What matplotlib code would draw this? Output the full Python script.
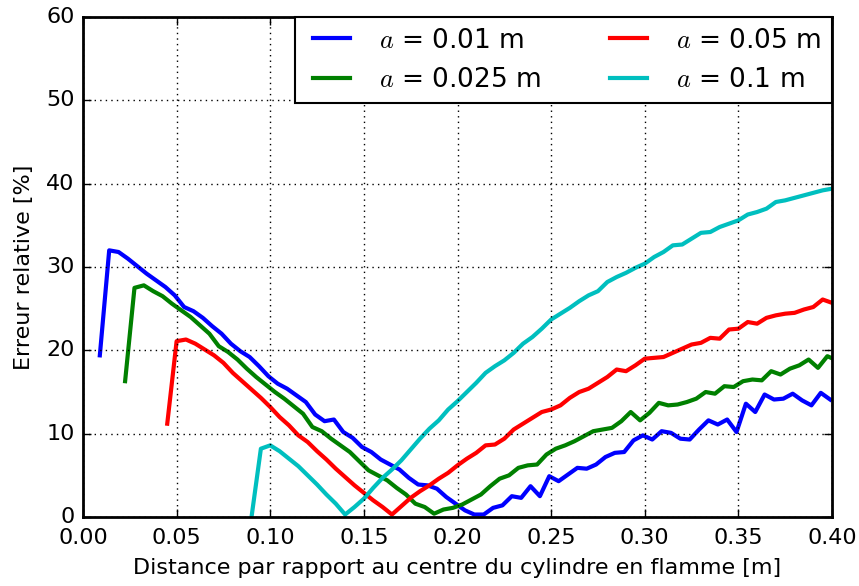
import numpy as np
import matplotlib
matplotlib.use('Agg')
import matplotlib.pyplot as plt

plt.style.use('classic')
plt.rcParams['mathtext.fontset'] = 'cm'

# sampling step along the distance axis
step = 0.005

# relative error [%], one list per cylinder radius a
err_a001 = [19.4, 32.0, 31.8, 31.0, 30.1, 29.2, 28.4, 27.6, 26.6, 25.2,
            24.7, 23.9, 22.9, 22.0, 20.8, 19.9, 19.2, 18.1, 16.9, 16.0,
            15.4, 14.6, 13.8, 12.3, 11.5, 11.7, 10.2, 9.5, 8.4, 7.8,
            6.9, 6.3, 5.7, 4.7, 3.9, 3.8, 3.4, 2.4, 1.6, 0.8,
            0.3, 0.3, 1.1, 1.4, 2.5, 2.3, 3.7, 2.5, 4.9, 4.3,
            5.1, 5.9, 5.8, 6.3, 7.2, 7.7, 7.8, 9.2, 9.8, 9.3,
            10.3, 10.1, 9.4, 9.3, 10.5, 11.6, 11.1, 11.7, 10.2, 13.6,
            12.6, 14.7, 14.1, 14.2, 14.8, 14.0, 13.4, 14.9, 14.1]
err_a0025 = [16.3, 27.5, 27.8, 27.1, 26.5, 25.6, 24.8, 24.0, 23.0, 22.0,
             20.5, 19.8, 18.9, 17.8, 16.8, 15.9, 15.0, 14.2, 13.3, 12.4,
             10.8, 10.3, 9.4, 8.6, 7.8, 6.7, 5.6, 5.0, 4.4, 3.5,
             2.7, 1.6, 1.2, 0.4, 0.9, 1.1, 1.5, 2.1, 2.7, 3.7,
             4.6, 5.0, 5.9, 6.2, 6.3, 7.5, 8.2, 8.6, 9.1, 9.7,
             10.3, 10.5, 10.7, 11.5, 12.6, 11.6, 12.5, 13.7, 13.4, 13.5,
             13.8, 14.2, 15.0, 14.8, 15.7, 15.6, 16.3, 16.5, 16.4, 17.5,
             17.1, 17.8, 18.2, 18.9, 17.9, 19.3, 18.8]
err_a005 = [11.2, 21.1, 21.3, 20.8, 20.1, 19.4, 18.5, 17.3, 16.3, 15.3,
            14.3, 13.2, 12.0, 11.0, 9.8, 9.0, 7.9, 6.9, 5.8, 4.8,
            3.8, 2.9, 2.0, 1.2, 0.3, 1.3, 2.3, 3.1, 3.8, 4.6,
            5.3, 6.2, 7.0, 7.7, 8.6, 8.7, 9.4, 10.5, 11.2, 11.9,
            12.6, 12.9, 13.4, 14.3, 15.0, 15.4, 16.1, 16.8, 17.7, 17.5,
            18.2, 19.0, 19.1, 19.2, 19.7, 20.2, 20.7, 20.9, 21.5, 21.4,
            22.5, 22.6, 23.4, 23.2, 23.9, 24.2, 24.4, 24.5, 24.9, 25.2,
            26.1, 25.7]
err_a01 = [0.0, 8.2, 8.6, 7.9, 7.0, 6.1, 5.0, 3.9, 2.7, 1.6,
           0.3, 1.2, 2.2, 3.5, 4.7, 5.7, 6.8, 8.1, 9.4, 10.6,
           11.6, 12.9, 13.9, 15.0, 16.1, 17.3, 18.1, 18.8, 19.7, 20.8,
           21.6, 22.6, 23.7, 24.4, 25.1, 25.9, 26.6, 27.1, 28.2, 28.8,
           29.3, 29.9, 30.4, 31.2, 31.8, 32.6, 32.7, 33.4, 34.1, 34.2,
           34.8, 35.2, 35.6, 36.3, 36.6, 37.0, 37.8, 38.0, 38.3, 38.6,
           38.9, 39.2, 39.4]

# first sampled distance of each curve [m]
starts = [0.009, 0.0225, 0.045, 0.09]
series = [err_a001, err_a0025, err_a005, err_a01]
labels = [r'$a$ = 0.01 m', r'$a$ = 0.025 m', r'$a$ = 0.05 m', r'$a$ = 0.1 m']
colors = ['b', 'g', 'r', 'c']

xticks = [0.00, 0.05, 0.10, 0.15, 0.20, 0.25, 0.30, 0.35, 0.40]
yticks = [0, 10, 20, 30, 40, 50, 60]

fig = plt.figure(figsize=(8.59, 5.86), dpi=100, facecolor='white')
ax = fig.add_axes([0.0966, 0.1177, 0.8720, 0.8533])

for x0, err, lab, col in zip(starts, series, labels, colors):
    xs = x0 + step * np.arange(len(err))
    ax.plot(xs, err, color=col, lw=3, label=lab)

ax.set_xlim(0, 0.4)
ax.set_ylim(0, 60)
ax.set_xticks(xticks)
ax.set_xticklabels(['%.2f' % t for t in xticks])
ax.set_yticks(yticks)
ax.tick_params(labelsize=16, length=6, width=1)
ax.tick_params(axis='x', pad=8)
ax.tick_params(axis='y', pad=6)
ax.grid(True, color='k', linestyle=':', linewidth=1)
for sp in ax.spines.values():
    sp.set_linewidth(2)

ax.set_xlabel('Distance par rapport au centre du cylindre en flamme [m]',
              fontsize=16, labelpad=7)
ax.set_ylabel('Erreur relative [%]', fontsize=16, labelpad=9)

leg = ax.legend(loc='upper right', bbox_to_anchor=(1, 1), borderaxespad=0,
                ncol=2, fontsize=19, fancybox=False, handlelength=2.0,
                columnspacing=2.3)
leg.get_frame().set_edgecolor('k')
leg.get_frame().set_linewidth(1.5)

fig.savefig('out.png', dpi=100, facecolor='white')
